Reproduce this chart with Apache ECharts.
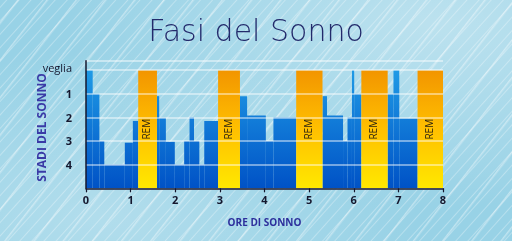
<!DOCTYPE html>
<html>
<head>
<meta charset="utf-8">
<script src="https://cdn.jsdelivr.net/npm/echarts@6/dist/echarts.min.js"></script>
<style>
html,body{margin:0;padding:0;}
body{
  width:512px;height:241px;overflow:hidden;
  background-color:#98d2e6;
  background-image:
    repeating-linear-gradient(132deg, rgba(255,255,255,0) 0px, rgba(255,255,255,0) 4px, rgba(255,255,255,0.3) 5px, rgba(255,255,255,0) 6px, rgba(255,255,255,0) 9px),
    repeating-linear-gradient(128deg, rgba(255,255,255,0) 0px, rgba(255,255,255,0) 13px, rgba(255,255,255,0.4) 14px, rgba(255,255,255,0) 16px, rgba(255,255,255,0) 23px),
    radial-gradient(ellipse at 85% 10%, rgba(255,255,255,0.35), rgba(255,255,255,0) 60%),
    radial-gradient(ellipse at 20% 90%, rgba(255,255,255,0.25), rgba(255,255,255,0) 55%);
}
#c{width:512px;height:241px;}
</style>
</head>
<body>
<div id="c"></div>
<script>
// ---- data ----
const titleText = 'Fasi del Sonno';
const xName = 'ORE DI SONNO';
const yName = 'STADI DEL SONNO';
const xTicks = [0,1,2,3,4,5,6,7,8];
// level values: 5 = veglia, 4 = stadio 1, 3 = stadio 2, 2 = stadio 3, 1 = stadio 4
const yLevelLabels = {1:'4', 2:'3', 3:'2', 4:'1', 5:'veglia'};
const segStart = [0,0.15,0.30,0.41,0.87,1.05, 1.59,1.64,1.79,1.99,2.20,2.32,2.42,2.54,2.65, 3.45,3.61,4.03,4.20, 5.30,5.40,5.76,5.86,5.96,6.01, 6.76,6.89,7.02];
const segEnd   = [0.15,0.30,0.41,0.87,1.05,1.17, 1.64,1.79,1.99,2.20,2.32,2.42,2.54,2.65,2.96, 3.61,4.03,4.20,4.71, 5.40,5.76,5.86,5.96,6.01,6.17, 6.89,7.02,7.43];
const segLevel = [5,4,2,1,1.93,2.85, 3.9,2.98,1.97,1,2,3,2,1,2.85, 3.9,3.08,2,3, 3.9,3.08,2,3,5,4, 4,5,2.95];
const remStart = [1.17,2.96,4.71,6.17,7.43];
const remEnd   = [1.59,3.45,5.30,6.76,8.00];
const remLevel = 5;
const remLabel = 'REM';

const blueData = segStart.map((s,i)=>[s, segEnd[i], segLevel[i]]);
const remData = remStart.map((s,i)=>[s, remEnd[i], remLevel]);

const chart = echarts.init(document.getElementById('c'), null, {renderer:'canvas'});

const blueFill = {type:'linear', x:0, y:69, x2:0, y2:188, global:true,
  colorStops:[{offset:0,color:'#1f9be6'},{offset:1,color:'#0052c6'}]};
const remFill = {type:'linear', x:0, y:69, x2:0, y2:188, global:true,
  colorStops:[{offset:0,color:'#f29400'},{offset:0.5,color:'#ffbf00'},{offset:1,color:'#ffe800'}]};

function rectItem(params, api, fill){
  const p0 = api.coord([api.value(0), api.value(2)]);
  const p1 = api.coord([api.value(1), 0]);
  return {type:'rect', shape:{x:p0[0], y:p0[1], width:p1[0]-p0[0], height:p1[1]-p0[1]}, style:{fill:fill}};
}

chart.setOption({
  animation:false,
  title:{text:titleText, left:'center', top:13,
    textStyle:{fontFamily:'DejaVu Sans', fontWeight:200, fontSize:30, color:'#232a6b'}},
  grid:{left:86, right:69, top:60.7, bottom:52.7},
  xAxis:{type:'value', min:0, max:8, interval:1, z:5,
    name:xName, nameLocation:'middle', nameGap:30,
    nameTextStyle:{fontFamily:'Open Sans', fontWeight:'bold', fontSize:10, color:'#2d2f9c'},
    axisLine:{lineStyle:{color:'#15172e', width:1.5}},
    axisTick:{show:true, length:4, lineStyle:{color:'#15172e', width:1.2}},
    axisLabel:{margin:7, fontFamily:'Open Sans', fontWeight:'bold', fontSize:11, color:'#15172e',
      formatter:v=> xTicks.includes(v) ? String(v) : ''},
    splitLine:{show:false}},
  yAxis:{type:'value', min:0, max:5.4, interval:1, z:5,
    name:yName, nameLocation:'middle', nameGap:37, nameRotate:90, nameMoveOverlap:false,
    nameTextStyle:{fontFamily:'Open Sans', fontWeight:'bold', fontSize:12, color:'#3a3aa6', padding:[0,6,0,0]},
    axisLine:{show:true, lineStyle:{color:'#15172e', width:1.5}},
    axisTick:{show:false},
    axisLabel:{margin:14, fontFamily:'Open Sans', fontSize:11, color:'#15172e',
      formatter:v=> yLevelLabels[v] ? (v===5 ? '{w|'+yLevelLabels[v]+'}' : '{n|'+yLevelLabels[v]+'}') : '',
      rich:{w:{fontFamily:'Open Sans', fontSize:11, color:'#15172e', padding:[0,0,2,0]},
            n:{fontFamily:'Open Sans', fontWeight:'bold', fontSize:11, color:'#15172e', padding:[0,0,-2,0]}}},
    splitLine:{show:true, lineStyle:{color:'rgba(255,255,255,0.6)', width:1.6}}},
  series:[
    {type:'custom', data:blueData, encode:{x:[0,1], y:2},
      renderItem:(params, api)=> rectItem(params, api, blueFill)},
    {type:'custom', data:remData, encode:{x:[0,1], y:2},
      renderItem:(params, api)=>{
        const r = rectItem(params, api, remFill);
        const cx = r.shape.x + r.shape.width/2;
        const cy = api.coord([0, 2.5])[1];
        return {type:'group', children:[r,
          {type:'text', x:cx, y:cy, rotation:Math.PI/2,
            style:{text:remLabel, fill:'#2b2410', font:'10px "Open Sans"', align:'center', verticalAlign:'middle'}}]};
      }}
  ]
});
</script>
</body>
</html>
